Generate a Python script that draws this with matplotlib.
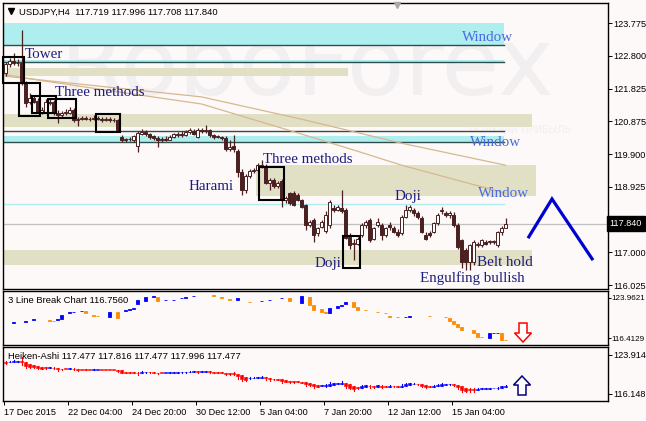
import matplotlib
matplotlib.use("Agg")
import matplotlib.pyplot as plt
from matplotlib.patches import Rectangle, FancyArrow
import matplotlib.transforms as mtransforms
import numpy as np

plt.rcParams['font.family'] = ['Liberation Sans', 'DejaVu Sans']

# ---------------- USDJPY H4 candles ----------------
opens = [122.30, 122.55, 122.65, 122.58, 122.60, 122.00, 121.45, 121.55, 121.48, 121.15,
         121.15, 121.45, 121.45, 121.12, 121.05, 121.10, 121.12, 121.20, 120.90, 120.95,
         120.97, 120.95, 120.93, 120.98, 120.95, 120.92, 120.95, 120.90, 120.92, 120.40,
         120.30, 120.33, 120.30, 120.15, 120.50, 120.55, 120.48, 120.42, 120.36, 120.30,
         120.35, 120.32, 120.40, 120.45, 120.50, 120.45, 120.55, 120.58, 120.40, 120.62,
         120.58, 120.60, 120.45, 120.40, 120.40, 120.38, 120.05, 120.15, 120.00, 119.37,
         118.83, 119.25, 119.40, 119.42, 119.57, 119.55, 119.04, 119.13, 118.95, 119.10,
         118.54, 118.74, 118.74, 118.69, 118.54, 118.39, 117.80, 117.95, 117.55, 117.75,
         117.62, 117.80, 118.30, 118.24, 118.30, 118.24, 117.45, 117.25, 117.25, 117.50,
         117.80, 117.95, 117.40, 117.80, 117.80, 117.50, 117.80, 117.70, 117.60, 117.55,
         118.05, 118.25, 118.24, 118.15, 118.00, 117.50, 117.55, 117.60, 117.85, 118.20,
         118.15, 118.10, 118.09, 117.80, 117.36, 117.06, 116.70, 116.70, 117.21, 117.20,
         117.30, 117.30, 117.30, 117.21, 117.60, 117.719]
highs = [122.62, 122.75, 122.90, 122.70, 123.57, 122.05, 121.70, 121.62, 121.55, 121.30,
         121.52, 121.55, 121.50, 121.20, 121.18, 121.22, 121.30, 121.25, 121.00, 121.02,
         121.03, 121.00, 121.05, 121.02, 121.00, 121.00, 120.99, 120.97, 120.95, 120.45,
         120.38, 120.40, 120.46, 120.58, 120.65, 120.60, 120.52, 120.47, 120.42, 120.40,
         120.42, 120.45, 120.52, 120.55, 120.58, 120.60, 120.66, 120.63, 120.68, 120.68,
         120.75, 120.64, 120.50, 120.47, 120.44, 120.42, 120.30, 120.45, 120.05, 119.45,
         119.30, 119.45, 119.48, 119.62, 119.72, 119.60, 119.18, 119.20, 119.10, 119.15,
         118.65, 118.78, 118.80, 118.74, 118.58, 118.42, 117.95, 118.00, 117.75, 117.95,
         118.20, 118.55, 118.40, 118.40, 118.83, 118.30, 117.55, 117.38, 117.45, 117.85,
         117.95, 118.00, 117.75, 118.00, 117.85, 117.75, 117.88, 117.78, 117.68, 118.10,
         118.39, 118.40, 118.30, 118.22, 118.08, 117.58, 117.62, 117.90, 118.15, 118.33,
         118.22, 118.20, 118.18, 117.85, 117.40, 117.12, 117.25, 117.36, 117.30, 117.40,
         117.36, 117.36, 117.37, 117.62, 117.76, 117.996]
lows = [122.20, 122.48, 122.52, 122.50, 121.95, 121.30, 121.38, 121.40, 121.10, 121.08,
        121.10, 121.35, 121.05, 120.82, 121.00, 121.05, 121.08, 120.85, 120.72, 120.90,
        120.90, 120.88, 120.90, 120.90, 120.86, 120.88, 120.85, 120.86, 120.55, 120.25,
        120.26, 120.28, 120.27, 119.96, 120.45, 120.42, 120.35, 120.30, 120.10, 120.25,
        120.28, 120.30, 120.36, 120.40, 120.40, 120.42, 120.50, 120.45, 120.38, 120.52,
        120.52, 120.40, 120.35, 120.36, 120.30, 120.00, 120.00, 119.95, 119.22, 118.69,
        118.75, 119.20, 119.35, 119.38, 119.50, 119.00, 118.83, 118.90, 118.90, 118.33,
        118.45, 118.40, 118.35, 118.50, 118.30, 117.65, 117.75, 117.30, 117.48, 117.70,
        117.55, 117.70, 118.18, 118.20, 118.15, 117.38, 117.10, 116.76, 117.20, 117.45,
        117.72, 117.30, 117.35, 117.75, 117.36, 117.45, 117.65, 117.55, 117.45, 117.50,
        118.00, 118.18, 118.08, 117.98, 117.55, 117.36, 117.45, 117.55, 117.80, 118.12,
        118.05, 118.02, 117.75, 117.10, 116.53, 116.47, 116.47, 116.62, 117.15, 117.15,
        117.20, 117.24, 117.25, 117.15, 117.50, 117.708]
closes = [122.55, 122.65, 122.58, 122.60, 122.05, 121.42, 121.55, 121.45, 121.15, 121.20,
          121.45, 121.40, 121.12, 121.05, 121.10, 121.15, 121.20, 120.90, 120.95, 120.97,
          120.95, 120.93, 120.98, 120.95, 120.92, 120.95, 120.90, 120.92, 120.62, 120.30,
          120.33, 120.35, 120.42, 120.52, 120.55, 120.48, 120.40, 120.36, 120.30, 120.35,
          120.32, 120.40, 120.48, 120.50, 120.45, 120.55, 120.60, 120.50, 120.62, 120.58,
          120.60, 120.45, 120.40, 120.42, 120.38, 120.05, 120.10, 120.05, 119.37, 118.83,
          119.25, 119.40, 119.42, 119.57, 119.55, 119.04, 119.13, 118.95, 119.04, 118.54,
          118.60, 118.45, 118.39, 118.54, 118.33, 117.80, 117.90, 117.50, 117.71, 117.90,
          118.10, 118.48, 118.24, 118.33, 118.20, 117.41, 117.20, 117.27, 117.40, 117.80,
          117.90, 117.36, 117.70, 117.90, 117.50, 117.70, 117.75, 117.60, 117.50, 118.05,
          118.25, 118.33, 118.15, 118.05, 117.59, 117.40, 117.50, 117.85, 118.10, 118.25,
          118.10, 118.15, 117.80, 117.15, 116.70, 116.70, 117.21, 117.30, 117.25, 117.36,
          117.25, 117.30, 117.32, 117.59, 117.72, 117.840]

# moving averages (bar index, value)
ma_fast_bar = [0, 8, 24, 49, 74, 87, 99, 125]
ma_fast = [122.25, 122.09, 121.81, 121.38, 120.49, 120.02, 119.57, 118.74]
ma_slow_bar = [0, 24, 49, 74, 99, 125]
ma_slow = [122.20, 121.90, 121.59, 120.93, 120.22, 119.57]

# support / resistance zones: (low, high, first bar, last bar)
window_bands = [(123.12, 123.775, -0.625, 124.625),
                (122.62, 122.68, -0.625, 124.625),
                (120.25, 120.43, -0.625, 124.625)]
window_lines = [123.12, 122.62, 120.58, 120.25]
window_thin = [118.42]
khaki_bands = [(122.21, 122.44, -0.625, 85.625),
               (120.70, 121.08, -0.625, 131.625),
               (118.66, 119.57, 62.625, 132.625),
               (116.62, 117.06, -0.625, 131.625)]
last_price = 117.840

# candlestick pattern boxes: (first bar, last bar, low, high)
pattern_boxes = [(-0.625, 4.625, 122.00, 122.77),
                 (3.375, 8.625, 121.02, 122.00),
                 (6.625, 12.625, 121.11, 121.62),
                 (10.625, 17.625, 120.96, 121.53),
                 (22.625, 28.625, 120.55, 121.08),
                 (63.375, 69.625, 118.54, 119.52),
                 (84.375, 88.625, 116.53, 117.47)]

# pattern names: (text, bar, price, alignment)
pattern_labels = [("Tower", 4.875, 122.83, 'left'),
                  ("Three methods", 12.375, 121.73, 'left'),
                  ("Three methods", 64.375, 119.75, 'left'),
                  ("Harami", 57.125, 118.95, 'right'),
                  ("Doji", 97.375, 118.63, 'left'),
                  ("Doji", 83.875, 116.67, 'right'),
                  ("Belt hold", 117.875, 116.70, 'left'),
                  ("Engulfing bullish", 103.625, 116.23, 'left')]
window_labels = [("Window", 114.125, 123.36),
                 ("Window", 116.125, 120.25),
                 ("Window", 118.125, 118.72)]

# expected path
forecast_bar = [130.625, 136.625, 146.875]
forecast_price = [117.41, 118.57, 116.76]

# 3 Line Break bricks
lb_bar = [2, 5, 7, 11, 12, 13, 14, 16, 17, 19, 20, 22, 23, 26, 28, 30, 31, 32, 33, 35,
          37, 38, 40, 42, 44, 45, 47, 52, 54, 56, 58, 61, 64, 66, 69, 71, 74, 76, 77, 79,
          80, 81, 83, 84, 85, 87, 88, 90, 93, 95, 96, 98, 100, 101, 106, 110, 111, 112, 113, 114,
          117, 118, 119, 121, 122, 123, 124, 125]
lb_open = [119.24, 119.43, 119.81, 119.72, 119.62, 119.81, 120.00, 121.13, 121.23, 121.42,
           121.51, 120.75, 120.65, 120.38, 121.32, 121.51, 121.70, 121.85, 122.90, 123.40,
           124.15, 124.15, 123.50, 123.55, 123.90, 124.00, 124.30, 124.53, 124.15, 123.77,
           123.60, 123.30, 123.35, 123.50, 123.96, 124.00, 123.10, 124.15, 122.64, 121.90,
           121.30, 121.13, 122.07, 122.50, 122.83, 123.21, 122.26, 121.75, 121.36, 121.20,
           120.50, 120.40, 120.35, 120.40, 120.62, 120.40, 120.20, 119.62, 119.06, 118.50,
           117.90, 117.36, 116.65, 116.40, 117.36, 117.36, 117.36, 116.04]
lb_close = [119.34, 119.53, 119.91, 119.62, 119.55, 120.00, 120.75, 121.23, 121.32, 121.51,
            121.13, 120.65, 120.57, 121.32, 120.19, 121.70, 121.85, 122.00, 123.50, 124.10,
            124.25, 123.40, 123.58, 123.62, 124.00, 124.08, 124.38, 124.43, 124.05, 123.67,
            123.95, 123.20, 123.45, 123.60, 124.05, 123.40, 124.30, 122.64, 121.70, 121.30,
            121.20, 122.07, 122.50, 122.64, 123.21, 122.26, 121.70, 121.65, 121.26, 121.10,
            120.40, 120.30, 120.45, 120.50, 120.52, 120.30, 119.62, 119.06, 118.40, 118.00,
            117.36, 116.60, 116.55, 117.36, 117.45, 117.45, 116.04, 115.95]

main_ticks = [123.775, 122.800, 121.825, 120.875, 119.900, 118.925, 117.850, 117.000, 116.025]
lb_ticks = [123.9621, 116.4129]
ha_ticks = [123.914, 116.148]
time_ticks = [-0.375, 15.625, 31.625, 47.625, 63.625, 79.625, 95.625, 111.625]
time_labels = ["17 Dec 2015", "22 Dec 04:00", "24 Dec 20:00", "30 Dec 12:00",
               "5 Jan 04:00", "7 Jan 20:00", "12 Jan 12:00", "15 Jan 04:00"]

# ---------------- styling ----------------
BG = '#fdf9f8'
CANDLE = '#4a2020'
CYAN = '#afeeee'
KHAKI = '#e1e0c4'
SLATE = '#2f4f4f'
MA_COL = '#d6b890'
NAVY = '#1c1c7e'
WIN_COL = '#4a6ae0'
SERIF = ['Liberation Serif', 'DejaVu Serif']

W, H = 646, 421
fig = plt.figure(figsize=(W / 100, H / 100), dpi=100, facecolor=BG)


def panel(x0, y0, x1, y1, size=6.6, tick_len=3, pad=1.0):
    a = fig.add_axes([x0 / W, 1 - y1 / H, (x1 - x0) / W, (y1 - y0) / H])
    a.set_facecolor(BG)
    a.set_xlim(-0.625, 150.625)
    for s in a.spines.values():
        s.set_linewidth(1.0)
        s.set_color('black')
    a.yaxis.tick_right()
    a.tick_params(axis='y', direction='out', length=tick_len, width=0.7, pad=pad,
                  labelsize=size, colors='black')
    a.set_xticks([])
    return a


ax = panel(3, 3, 608, 289)
ax_lb = panel(3, 291, 608, 345, size=5.8, tick_len=2, pad=0.4)
ax_ha = panel(3, 347, 608, 401)

# ---------------- main price panel ----------------
ax.set_ylim(115.907, 124.367)
ax.set_yticks(main_ticks)
ax.set_yticklabels([f"{v:.3f}" for v in main_ticks])

ax.text(0.094, 0.77, "RoboForex", transform=ax.transAxes, fontsize=68,
        family='DejaVu Sans', color='#f2eff1', ha='left', va='center', zorder=0.5)
ax.text(0.77, 0.555, "ПОЛУЧАЙ ПРИБЫЛЬ", transform=ax.transAxes, fontsize=7,
        family='DejaVu Sans', color='#f1eeef', ha='left', va='center', zorder=0.5)

for lo, hi, b0, b1 in khaki_bands:
    ax.add_patch(Rectangle((b0, lo), b1 - b0, hi - lo, facecolor=KHAKI,
                           edgecolor='none', zorder=1))
for lo, hi, b0, b1 in window_bands:
    ax.add_patch(Rectangle((b0, lo), b1 - b0, hi - lo, facecolor=CYAN,
                           edgecolor='none', zorder=1.1))
for lv in window_lines:
    ax.plot([-0.625, 124.625], [lv, lv], color=SLATE, lw=1.0, zorder=1.3)
for lv in window_thin:
    ax.plot([-0.625, 124.625], [lv, lv], color=CYAN, lw=1.0, zorder=1.3)
ax.axhline(last_price, color='#c0c0c0', lw=0.9, zorder=1.2)

ax.plot(ma_slow_bar, ma_slow, color=MA_COL, lw=0.9, zorder=2)
ax.plot(ma_fast_bar, ma_fast, color=MA_COL, lw=0.9, zorder=2)

bars = np.arange(len(closes))
ax.vlines(bars, lows, highs, color=CANDLE, lw=0.9, zorder=4)
for i, (o, c) in enumerate(zip(opens, closes)):
    lo, hi = min(o, c), max(o, c)
    fc = CANDLE if c < o else 'white'
    ax.add_patch(Rectangle((i - 0.3, lo), 0.6, max(hi - lo, 0.015),
                           facecolor=fc, edgecolor=CANDLE, lw=0.7, zorder=4.5))

for b0, b1, lo, hi in pattern_boxes:
    ax.add_patch(Rectangle((b0, lo), b1 - b0, hi - lo, facecolor='none',
                           edgecolor='black', lw=1.5, zorder=5, clip_on=False))

for txt, b, p, ha in pattern_labels:
    ax.text(b, p, txt, fontsize=10.8, family=SERIF, color=NAVY, ha=ha,
            va='center', zorder=6)
for txt, b, p in window_labels:
    ax.text(b, p, txt, fontsize=10.8, family=SERIF, color=WIN_COL, ha='left',
            va='center', zorder=6)

ax.plot(forecast_bar, forecast_price, color='#0000d0', lw=2.3, zorder=6,
        solid_joinstyle='miter', solid_capstyle='butt')

ax.plot([0.0132], [0.971], marker='v', color='black', ms=4.5,
        transform=ax.transAxes, zorder=7)
ax.text(0.0264, 0.9685, "USDJPY,H4  117.719 117.996 117.708 117.840",
        transform=ax.transAxes, fontsize=6.8, ha='left', va='center', zorder=7)
ax.plot([0.651], [0.993], marker='v', color='#a8a8a8', ms=5,
        transform=ax.transAxes, zorder=7, clip_on=False)

trans = mtransforms.blended_transform_factory(ax.transAxes, ax.transData)
ax.text(1.003, last_price, f"{last_price:.3f}", transform=trans, fontsize=6.6,
        color='white', ha='left', va='center', zorder=10, clip_on=False,
        bbox=dict(boxstyle='square,pad=0.3', fc='black', ec='black'))

# ---------------- 3 Line Break panel ----------------
ax_lb.set_ylim(115.092, 125.283)
ax_lb.set_yticks(lb_ticks)
ax_lb.set_yticklabels([f"{v:.4f}" for v in lb_ticks])
for b, o, c in zip(lb_bar, lb_open, lb_close):
    col = '#0000ff' if c > o else '#ff8c00'
    ax_lb.add_patch(Rectangle((b - 0.42, min(o, c)), 0.84, abs(c - o),
                              facecolor=col, edgecolor=col, lw=0.6, zorder=3))
ax_lb.text(0.0083, 0.815, "3 Line Break Chart 116.7560", transform=ax_lb.transAxes,
           fontsize=6.8, ha='left', va='center', zorder=5)
ax_lb.add_patch(FancyArrow(129.375, 119.24, 0, -3.58, width=2.0, head_width=4.25,
                           head_length=1.7, length_includes_head=True,
                           facecolor='white', edgecolor='#ff0000', lw=1.1, zorder=6))

# ---------------- Heiken-Ashi panel ----------------
ax_ha.set_ylim(114.754, 125.507)
ax_ha.set_yticks(ha_ticks)
ax_ha.set_yticklabels([f"{v:.3f}" for v in ha_ticks])

ha_close = [(o + h + l + c) / 4 for o, h, l, c in zip(opens, highs, lows, closes)]
ha_open = [(opens[0] + closes[0]) / 2]
for i in range(1, len(closes)):
    ha_open.append((ha_open[-1] + ha_close[i - 1]) / 2)
ha_high = [max(h, o, c) for h, o, c in zip(highs, ha_open, ha_close)]
ha_low = [min(l, o, c) for l, o, c in zip(lows, ha_open, ha_close)]

for i in range(len(closes)):
    col = '#0000ff' if ha_close[i] >= ha_open[i] else '#ff0000'
    ax_ha.plot([i, i], [ha_low[i], ha_high[i]], color=col, lw=0.8, zorder=3)
    lo, hi = min(ha_open[i], ha_close[i]), max(ha_open[i], ha_close[i])
    ax_ha.add_patch(Rectangle((i - 0.38, lo), 0.76, max(hi - lo, 0.12),
                              facecolor=col, edgecolor=col, lw=0.4, zorder=3))
ax_ha.text(0.0083, 0.815, "Heiken-Ashi 117.477 117.816 117.477 117.996 117.477",
           transform=ax_ha.transAxes, fontsize=6.8, ha='left', va='center', zorder=2)
ax_ha.add_patch(FancyArrow(129.125, 115.95, 0, 3.78, width=2.0, head_width=4.25,
                           head_length=1.8, length_includes_head=True,
                           facecolor='white', edgecolor='#000080', lw=1.1, zorder=6))

ax_ha.set_xticks(time_ticks)
ax_ha.set_xticklabels(time_labels, ha='left')
ax_ha.tick_params(axis='x', direction='out', length=3, width=0.7, pad=2,
                  labelsize=6.6, colors='black')

fig.savefig("out.png", dpi=100, facecolor=BG)
